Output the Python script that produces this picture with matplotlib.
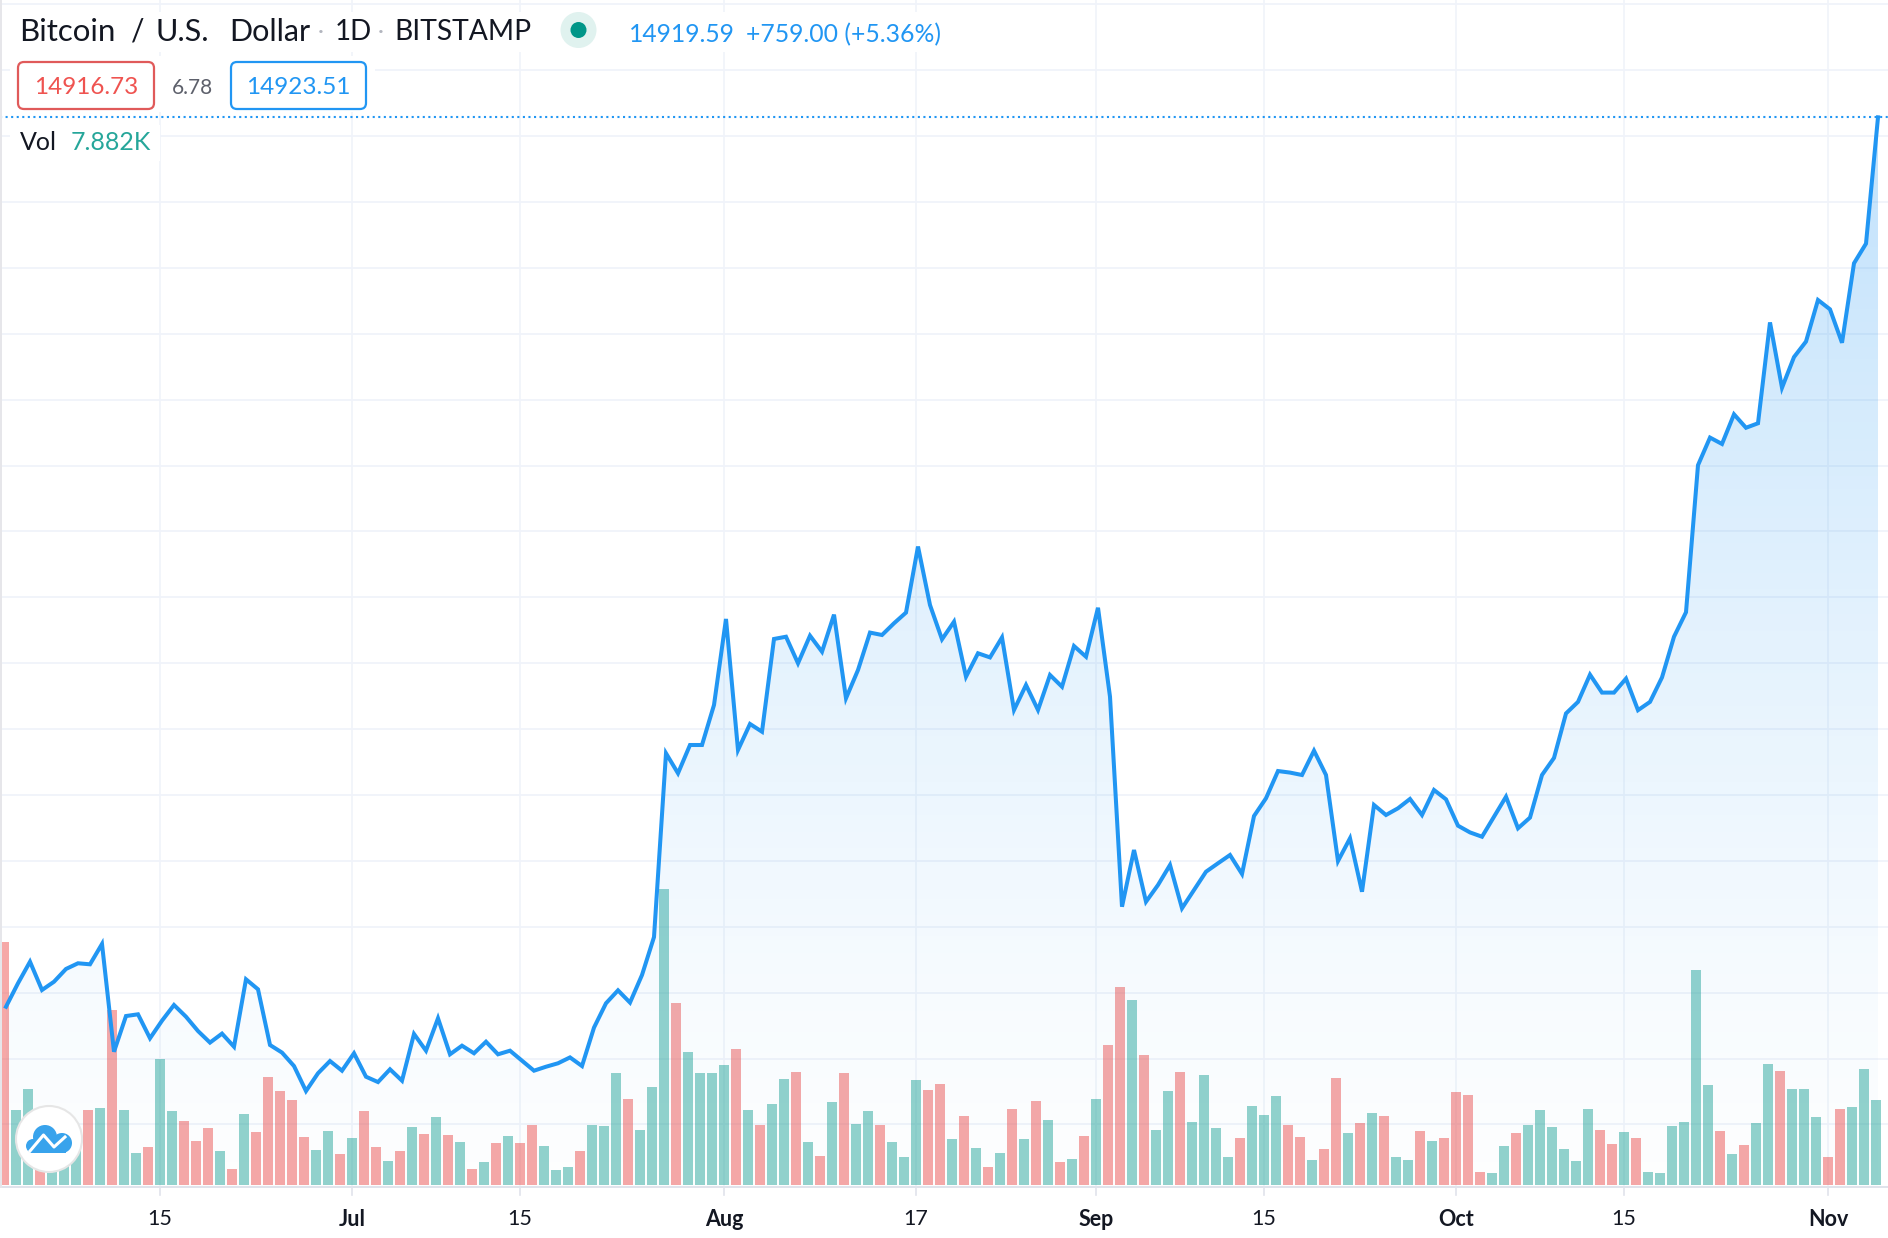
import numpy as np
import pandas as pd
import matplotlib
matplotlib.use("Agg")
import matplotlib.pyplot as plt
import matplotlib.dates as mdates
from matplotlib.patches import Circle, FancyBboxPatch, Rectangle

plt.rcParams['font.family'] = ['Lato', 'DejaVu Sans']

# daily closes, 2020-06-02 .. 2020-11-05
close = [
    9761, 9897, 10022, 9858, 9906, 9980, 10013, 10007, 10125, 9500,
    9707, 9717, 9578, 9680, 9771, 9703, 9620, 9553, 9605, 9529,
    9920, 9862, 9539, 9495, 9417, 9272, 9375, 9446, 9390, 9491,
    9355, 9324, 9398, 9332, 9603, 9506, 9694, 9485, 9535, 9491,
    9558, 9485, 9506, 9448, 9390, 9413, 9433, 9467, 9417, 9640,
    9781, 9856, 9785, 9945, 10165, 11231, 11115, 11279, 11279, 11511,
    12010, 11250, 11401, 11356, 11894, 11907, 11753, 11913, 11820, 12035,
    11550, 11714, 11931, 11917, 11985, 12047, 12430, 12091, 11892, 11994,
    11675, 11811, 11787, 11903, 11482, 11627, 11482, 11685, 11617, 11853,
    11791, 12075, 11559, 10341, 10670, 10370, 10467, 10583, 10332, 10438,
    10544, 10593, 10641, 10531, 10867, 10970, 11128, 11119, 11105, 11246,
    11105, 10606, 10738, 10428, 10931, 10873, 10912, 10966, 10873, 11018,
    10964, 10811, 10772, 10747, 10863, 10979, 10796, 10858, 11105, 11204,
    11462, 11529, 11687, 11583, 11583, 11664, 11481, 11529, 11671, 11907,
    12049, 12902, 13062, 13025, 13197, 13119, 13145, 13730, 13351, 13529,
    13619, 13860, 13806, 13612, 14073, 14187, 14919.59,
]

# volume in thousands
volume = [
    22.56, 6.95, 8.90, 7.11, 5.25, 6.80, 4.64, 6.95, 7.14, 16.22,
    6.95, 2.97, 3.52, 11.68, 6.86, 5.93, 4.08, 5.28, 3.15, 1.48,
    6.58, 4.91, 10.01, 8.71, 7.88, 4.45, 3.24, 5.01, 2.87, 4.36,
    6.86, 3.52, 2.22, 3.15, 5.38, 4.73, 6.30, 4.64, 3.99, 1.48,
    2.13, 3.89, 4.54, 3.89, 5.56, 3.62, 1.39, 1.67, 3.15, 5.56,
    5.47, 10.38, 7.97, 5.10, 9.08, 27.44, 16.87, 12.33, 10.38, 10.38,
    11.12, 12.61, 6.95, 5.56, 7.51, 9.83, 10.48, 3.99, 2.69, 7.69,
    10.38, 5.65, 6.86, 5.56, 3.99, 2.60, 9.73, 8.81, 9.36, 4.26,
    6.40, 3.43, 1.67, 2.97, 7.05, 4.26, 7.79, 6.03, 2.13, 2.41,
    4.54, 7.97, 12.98, 18.35, 17.15, 12.05, 5.10, 8.71, 10.48, 5.84,
    10.20, 5.28, 2.60, 4.36, 7.32, 6.49, 8.25, 5.56, 4.45, 2.32,
    3.34, 9.92, 4.82, 5.75, 6.67, 6.40, 2.60, 2.32, 5.01, 4.08,
    4.36, 8.62, 8.34, 1.21, 1.11, 3.62, 4.82, 5.56, 6.95, 5.38,
    3.34, 2.22, 7.05, 5.10, 3.80, 4.91, 4.36, 1.21, 1.11, 5.47,
    5.84, 19.93, 9.27, 5.01, 2.87, 3.71, 5.75, 11.22, 10.57, 8.90,
    8.90, 6.30, 2.60, 7.05, 7.23, 10.75, 7.882,
]

# u = green bar, d = red bar
direction = (
    "duuduuudud" "uuduudddud" "uddddduudu" "ddudududud" "ududduuudu"
    "uuduuuduuu" "ududuududu" "duuduuuddu" "dududududu" "dudduduudu"
    "uuuduuuddu" "ddududuudu" "dddduuduuu" "uuudduduuu" "uuududuudu"
    "uudduuu"
)

tick_dates = ["2020-06-15", "2020-07-01", "2020-07-15", "2020-08-01", "2020-08-17",
              "2020-09-01", "2020-09-15", "2020-10-01", "2020-10-15", "2020-11-01"]
tick_labels = ["15", "Jul", "15", "Aug", "17", "Sep", "15", "Oct", "15", "Nov"]

BLUE = "#2196f3"
GREEN = "#26a69a"
RED = "#ef5350"
GRID = "#f0f3fa"
W, H = 1888, 1238

dates = pd.date_range("2020-06-02", periods=len(close), freq="D")
x = mdates.date2num(dates)
x_line = x + 2 / 12  # the line sits a little right of the bar centres

fig = plt.figure(figsize=(W / 100, H / 100), dpi=100, facecolor="white")

# price pane, volume pane shares the same area
ax_vol = fig.add_axes([0, 0, 1, 1])
ax = fig.add_axes([0, 0, 1, 1], sharex=ax_vol)
ax.patch.set_alpha(0)
xlim = (x[0] - 4 / 12, x[0] + (W - 4) / 12)
ax_vol.set_xlim(xlim)
ax_vol.set_ylim(-4.91, 109.85)
ax.set_ylim(8419.6, 15600)
for a in (ax, ax_vol):
    a.axis("off")

# grid
for p in 14811 - 382.2 * np.arange(-2, 16):
    ax_vol.plot(xlim, [(p - 8419.6) / (15600 - 8419.6) * 114.76 - 4.91] * 2,
                color=GRID, lw=1.3, zorder=1)
tick_x = mdates.date2num(pd.to_datetime(tick_dates))
for t in tick_x:
    ax_vol.plot([t, t], [-0.2, 109.85], color=GRID, lw=1.2, zorder=1)

# volume bars
bar_colors = [GREEN if d == "u" else RED for d in direction]
ax_vol.bar(x, volume, width=10 / 12, color=bar_colors, alpha=0.5, zorder=2)

# area under the line, vertical gradient
base = 15600 - 5.8 * 1187
top = 14919.59
fill = ax.fill_between(x_line, close, base, facecolor="none", edgecolor="none", zorder=3)
grad = np.zeros((256, 2, 4))
grad[..., :3] = matplotlib.colors.to_rgb(BLUE)
grad[..., 3] = (0.01 + 0.27 * np.linspace(0, 1, 256) ** 1.3)[:, None]
im = ax.imshow(grad, extent=[x_line[0], x_line[-1], base, top], origin="lower", aspect="auto", zorder=3)
im.set_clip_path(fill.get_paths()[0], transform=ax.transData)
ax.set_xlim(xlim)
ax.set_ylim(8419.6, 15600)

ax.plot(x_line, close, color=BLUE, lw=2.9, solid_joinstyle="miter", zorder=4)
ax.axhline(close[-1], color=BLUE, lw=1.5, ls=(0, (1, 1.67)), zorder=4)

# everything else in image pixels
ui = fig.add_axes([0, 0, 1, 1])
ui.patch.set_alpha(0)
ui.set_xlim(0, W)
ui.set_ylim(H, 0)
ui.axis("off")

ui.add_patch(Rectangle((0, 0), 2, H, color="#e6e6ea", lw=0))
ui.add_patch(Rectangle((2, 1186), W, 2, color="#e0e3eb", lw=0))
ui.add_patch(Rectangle((0, 1188), W, 50, color="white", lw=0))
for t, lab in zip(tick_x, tick_labels):
    px = 4 + (t - x[0]) * 12
    ui.plot([px, px], [1188, 1195], color="#e0e3eb", lw=1.2)
    ui.text(px, 1219, lab, ha="center", va="center", fontsize=15.5, color="#131722",
            fontweight="bold" if lab.isalpha() else "normal")

# legend rows mask the grid
ui.add_patch(Rectangle((10, 12), 940, 40, color="white", lw=0))
ui.add_patch(Rectangle((10, 56), 365, 56, color="white", lw=0))
ui.add_patch(Rectangle((10, 125), 150, 36, color="white", lw=0))

for word, left, size in [("Bitcoin", 19, 22.5), ("/", 131, 21.5), ("U.S.", 155, 22), ("Dollar", 229, 22)]:
    ui.text(left, 32, word, va="center", fontsize=size, color="#131722")
ui.text(321, 32, "·", ha="center", va="center", fontsize=16, color="#b2b5be")
ui.text(335, 32, "1D", va="center", fontsize=20, color="#131722")
ui.text(381, 32, "·", ha="center", va="center", fontsize=16, color="#b2b5be")
ui.text(394, 32, "BITSTAMP", va="center", fontsize=20.3, color="#131722")
ui.add_patch(Circle((578.5, 30), 18, color="#e0f2ef", lw=0))
ui.add_patch(Circle((578.5, 30), 8, color="#009688", lw=0))
ui.text(629, 35, "14919.59", va="center", fontsize=17.7, color=BLUE)
ui.text(746, 35, "+759.00 (+5.36%)", va="center", fontsize=17.8, color=BLUE)

ui.add_patch(FancyBboxPatch((18, 62), 136, 47, boxstyle="round,pad=0,rounding_size=6",
                            fc="white", ec="#e05a5a", lw=1.6))
ui.text(86, 87, "14916.73", ha="center", va="center", fontsize=17.5, color="#ef5350")
ui.text(192, 88, "6.78", ha="center", va="center", fontsize=15, color="#5d606b")
ui.add_patch(FancyBboxPatch((231, 62), 135, 47, boxstyle="round,pad=0,rounding_size=6",
                            fc="white", ec=BLUE, lw=1.6))
ui.text(298, 87, "14923.51", ha="center", va="center", fontsize=17.5, color=BLUE)

ui.text(20, 143, "Vol", va="center", fontsize=18, color="#131722")
ui.text(71, 143, "7.882K", va="center", fontsize=18, color="#26a69a")

# logo
ui.add_patch(Circle((49, 1139), 33, fc="white", ec="#e6e6e6", lw=1.5))
cloud = "#38a3ec"
for cx, cy, r in [(45, 1137, 12), (33, 1146, 7), (62, 1143, 10)]:
    ui.add_patch(Circle((cx, cy), r, color=cloud, lw=0))
ui.add_patch(Rectangle((30, 1144), 36, 9, color=cloud, lw=0))
ui.plot([30, 43.5, 54, 65], [1151, 1135, 1147, 1137], color="white", lw=2.2)

fig.savefig("out.png", dpi=100)
